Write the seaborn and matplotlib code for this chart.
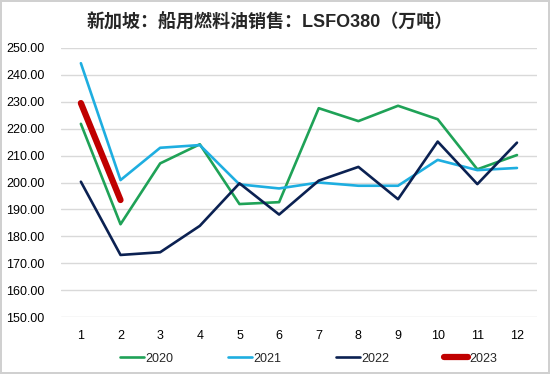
import pandas as pd
import numpy as np
import matplotlib
matplotlib.use("Agg")
import matplotlib.pyplot as plt
import seaborn as sns

months = list(range(1, 13))
s2020 = [221.8, 184.5, 207.1, 214.2, 192.0, 192.7, 227.6, 222.8, 228.5, 223.5, 204.9, 210.2]
s2021 = [244.3, 200.9, 212.9, 213.9, 199.3, 197.8, 200.0, 198.8, 198.8, 208.4, 204.6, 205.4]
s2022 = [200.3, 173.1, 174.1, 183.9, 199.7, 188.1, 200.7, 205.8, 193.8, 215.2, 199.4, 214.8]
s2023 = [229.5, 193.5]

series = {"2020": s2020, "2021": s2021, "2022": s2022, "2023": s2023}
colors = {"2020": "#1fa257", "2021": "#1eaee0", "2022": "#0b2152", "2023": "#c00000"}
widths = {"2020": 1.9, "2021": 1.9, "2022": 1.9, "2023": 4.5}

rows = []
for yr, vals in series.items():
    for m, v in zip(months, vals):
        rows.append((m, v, yr))
df = pd.DataFrame(rows, columns=["month", "value", "year"])

sns.set_style("white")
plt.rcParams["font.family"] = ["Liberation Sans", "Noto Sans CJK SC"]

fig = plt.figure(figsize=(5.5, 3.74), dpi=100)
fig.patch.set_edgecolor("#d0d0d0")
fig.patch.set_linewidth(1.5)
ax = fig.add_axes([0.111, 0.152, 0.865, 0.72])

for yr in series:
    d = df[df["year"] == yr]
    sns.lineplot(data=d, x="month", y="value", ax=ax, color=colors[yr],
                 linewidth=widths[yr], label=yr, solid_capstyle="round")

ax.set_xlim(0.5, 12.5)
ax.set_ylim(150, 250)
ax.set_yticks(np.arange(150, 251, 10))
ax.set_yticklabels([f"{v:.2f}" for v in np.arange(150, 251, 10)])
ax.set_xticks(months)
ax.grid(axis="y", color="#d9d9d9", linewidth=1)
ax.set_axisbelow(True)
for sp in ax.spines.values():
    sp.set_visible(False)
ax.tick_params(axis="both", length=0, labelsize=9, colors="#000000")
ax.tick_params(axis="x", pad=9)
ax.tick_params(axis="y", pad=12)
ax.set_xlabel("")
ax.set_ylabel("")

ax.legend(loc="upper center", bbox_to_anchor=(0.52, -0.09), ncol=4, frameon=False,
          fontsize=9, handlelength=1.9, handletextpad=0.1, columnspacing=4.4)

fig.text(0.49, 0.94, "新加坡：船用燃料油销售：LSFO380（万吨）", ha="center", va="center",
         fontsize=13, fontweight="bold")

fig.savefig("out.png", dpi=100)
